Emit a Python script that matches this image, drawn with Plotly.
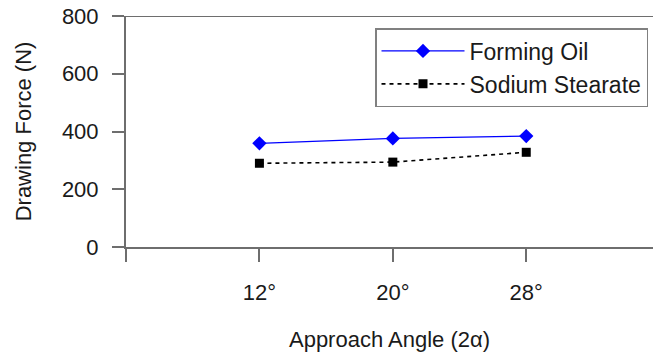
import plotly.graph_objects as go

angles = ["12°", "20°", "28°"]
forming_oil = [359, 376, 384]
sodium_stearate = [290, 294, 328]
y_ticks = [0, 200, 400, 600, 800]

xpos = list(range(1, len(angles) + 1))
FONT = "Liberation Sans, Arial, sans-serif"
AX = "#6e6e6e"

fig = go.Figure()
fig.add_trace(go.Scatter(
    x=xpos, y=forming_oil, name="Forming Oil", mode="lines+markers",
    line=dict(color="#0000ff", width=1.3),
    marker=dict(symbol="diamond", size=11, color="#0000ff"),
))
fig.add_trace(go.Scatter(
    x=xpos, y=sodium_stearate, name="Sodium Stearate", mode="lines+markers",
    line=dict(color="#000000", width=1.6, dash="4px,4px"),
    marker=dict(symbol="square", size=9, color="#000000"),
))

fig.add_shape(type="line", xref="paper", yref="y", x0=0, x1=1, y0=800, y1=800,
              line=dict(color=AX, width=2), layer="below")

fig.update_layout(
    width=653, height=352,
    margin=dict(l=126, r=0, t=16, b=105),
    paper_bgcolor="white", plot_bgcolor="white",
    font=dict(family=FONT, size=22, color="#1a1a1a"),
    showlegend=True,
    legend=dict(
        x=(375 - 126) / 527, y=(247 - 28) / 231, xanchor="left", yanchor="top",
        bordercolor="#808080", borderwidth=1.5, bgcolor="white",
        font=dict(size=23, family=FONT),
        itemwidth=83, tracegroupgap=0,
    ),
    xaxis=dict(
        range=[0, 3.95], tickvals=[0] + xpos, ticktext=[""] + angles,
        showline=True, linecolor=AX, linewidth=2,
        ticks="outside", ticklen=13, tickwidth=1.5, tickcolor=AX,
        showgrid=False, zeroline=False, ticklabelstandoff=12,
        title=dict(text="Approach Angle (2α)", font=dict(size=22), standoff=27),
    ),
    yaxis=dict(
        range=[0, 800], tickvals=y_ticks,
        showline=True, linecolor=AX, linewidth=2,
        ticks="outside", ticklen=12, tickwidth=1.5, tickcolor=AX,
        showgrid=False, zeroline=False, ticklabelstandoff=9,
        title=dict(text="Drawing Force (N)", font=dict(size=22), standoff=24),
    ),
)

fig.write_html("out.html", config={"displayModeBar": False},
               post_script="document.body.style.margin='0px';")
